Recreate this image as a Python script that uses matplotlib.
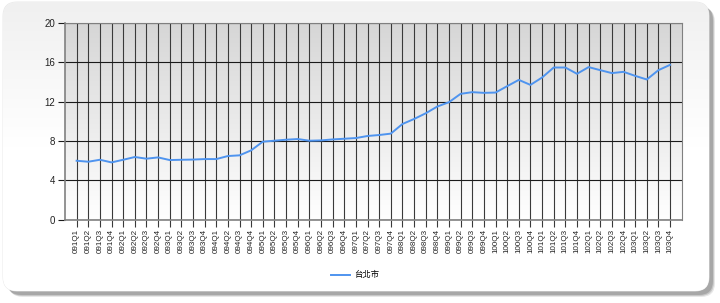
import numpy as np
import matplotlib
matplotlib.use("Agg")
import matplotlib.pyplot as plt
from matplotlib.patches import FancyBboxPatch

years = ["091", "092", "093", "094", "095", "096", "097", "098", "099", "100", "101", "102", "103"]
quarters = ["Q1", "Q2", "Q3", "Q4"]
categories = [y + q for y in years for q in quarters]
series_name = "台北市"
values = [
    5.98, 5.88, 6.08, 5.81,
    6.08, 6.36, 6.19, 6.32,
    6.05, 6.08, 6.10, 6.15,
    6.15, 6.46, 6.53, 7.04,
    7.92, 8.02, 8.12, 8.19,
    8.02, 8.05, 8.15, 8.22,
    8.29, 8.50, 8.60, 8.74,
    9.72, 10.23, 10.81, 11.50,
    11.94, 12.79, 12.96, 12.89,
    12.92, 13.57, 14.21, 13.70,
    14.45, 15.47, 15.47, 14.83,
    15.51, 15.20, 14.90, 15.03,
    14.62, 14.25, 15.20, 15.74,
]
y_ticks = [0, 4, 8, 12, 16, 20]

W, H = 720, 303
fig = plt.figure(figsize=(W / 100, H / 100), dpi=100)
fig.patch.set_facecolor("white")

# background frame
bg = fig.add_axes([0, 0, 1, 1], zorder=-2)
bg.set_xlim(0, W)
bg.set_ylim(H, 0)
bg.axis("off")
for off, col, a in [(5, "#b0b0b0", 0.3), (4, "#999999", 0.4), (3, "#888888", 0.5)]:
    sh = FancyBboxPatch((4 + off, 3 + off), 706, 289, boxstyle="round,pad=0,rounding_size=14",
                        fc=col, ec="none", alpha=a)
    bg.add_patch(sh)
frame = FancyBboxPatch((3, 2), 706, 289, boxstyle="round,pad=0,rounding_size=14",
                       fc="white", ec="#e6e6e6", lw=0.6)
bg.add_patch(frame)
grad = np.linspace(0, 1, 256).reshape(-1, 1)
cmap_bg = matplotlib.colors.LinearSegmentedColormap.from_list("bgf", ["#f0f0f0", "#ffffff", "#ffffff"])
im = bg.imshow(grad, extent=(3, 709, 291, 2), cmap=cmap_bg, aspect="auto", zorder=1)
im.set_clip_path(frame)

# main plot
ax = fig.add_axes([65 / W, 1 - 219.5 / H, (681.7 - 65) / W, (219.5 - 23) / H])
x = np.arange(1, len(categories) + 1)
n1 = len(categories) + 1

cmap_ax = matplotlib.colors.LinearSegmentedColormap.from_list("axg", ["#ffffff", "#d6d6d6"])
ax.imshow(grad, extent=(0, n1, 0, 20), origin="lower", cmap=cmap_ax, aspect="auto", zorder=0)
ax.set_xlim(0, n1)
ax.set_ylim(0, 20)

for xv in x:
    ax.axvline(xv, color="#3a3a3a", lw=0.8, zorder=1)
for yv in y_ticks:
    ax.axhline(yv, color="#1a1a1a", lw=0.8, zorder=1)

ax.plot(x, values, color="#4f94ef", lw=1.4, zorder=3, label=series_name, solid_joinstyle="round")

ax.set_xticks(x)
ax.set_xticklabels(categories, rotation=90, fontsize=5.8, family="Liberation Sans", color="#222222")
ax.set_yticks(y_ticks)
ax.set_yticklabels([str(v) for v in y_ticks], fontsize=7, family="Liberation Sans", color="#222222")
ax.tick_params(axis="x", length=5, width=0.8, color="#3a3a3a", pad=2)
ax.tick_params(axis="y", length=5, width=0.8, color="#1a1a1a", pad=2)
for s in ["left", "bottom"]:
    ax.spines[s].set_color("#808080")
    ax.spines[s].set_linewidth(1.2)
for s in ["top", "right"]:
    ax.spines[s].set_color("#808080")
    ax.spines[s].set_linewidth(0.8)

fig.legend(loc="center", bbox_to_anchor=(355 / W, 1 - 275 / H), frameon=False,
           prop={"family": ["Noto Sans CJK TC", "DejaVu Sans"], "size": 6},
           handlelength=2.2, handletextpad=0.5)

fig.savefig("out.png", dpi=100)
